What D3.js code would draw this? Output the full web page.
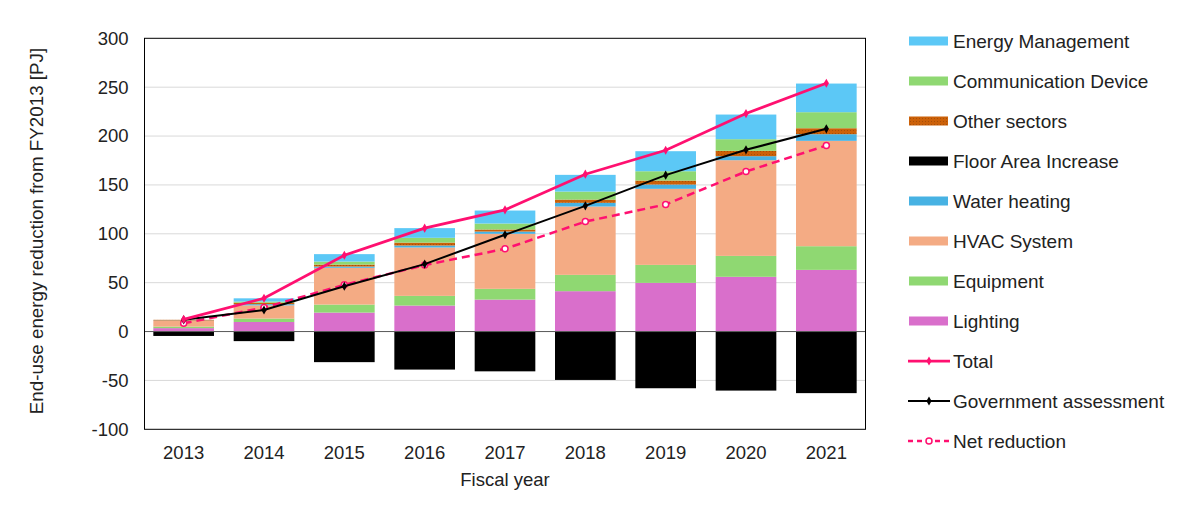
<!DOCTYPE html>
<html>
<head>
<meta charset="utf-8">
<script src="https://cdn.jsdelivr.net/npm/d3@7"></script>
<style>
  body { margin: 0; background: #fff; }
  svg { font-family: "Liberation Sans", Arial, sans-serif; }
</style>
</head>
<body>
<svg id="chart" width="1200" height="510"></svg>
<script>
// ── Data ───────────────────────────────────────────────────────────────────

const years = ['2013', '2014', '2015', '2016', '2017', '2018', '2019', '2020', '2021'];

// positive stack, bottom → top
const lighting   = [3.5, 9.8, 19.4, 26.6, 32.7, 41.3, 49.8, 56.0, 63.1];
const equipment  = [1.5, 3.5, 8.2, 9.9, 11.0, 16.7, 18.4, 21.4, 24.2];
const hvac       = [6.0, 13.5, 37.6, 49.5, 56.3, 69.9, 77.8, 97.9, 107.8];
const water      = [0.3, 1.2, 1.3, 2.0, 2.3, 3.8, 4.4, 4.1, 6.8];
const other      = [0.7, 1.5, 2.0, 3.0, 2.1, 3.3, 4.1, 5.5, 6.1];
const comm       = [0.0, 1.2, 3.1, 4.9, 6.1, 8.2, 9.5, 11.9, 16.4];
const energyMgmt = [0.0, 3.3, 7.6, 9.9, 13.3, 17.1, 20.5, 25.2, 29.3];
// negative
const floorArea  = [-4.5, -9.8, -31.3, -38.9, -40.7, -49.5, -58.0, -60.4, -63.0];

// lines
const total      = [12.5, 34.0, 78.0, 105.8, 124.5, 161.0, 185.5, 223.0, 254.0];
const government = [12.0, 22.0, 46.4, 69.0, 99.0, 128.6, 160.0, 185.9, 207.4];
const net        = [8.5, 24.5, 47.8, 68.0, 84.6, 112.5, 130.0, 163.7, 190.3];

const yTicks = [-100, -50, 0, 50, 100, 150, 200, 250, 300];

const stackSeries = [
  { name: 'Lighting',             values: lighting,   color: '#D96FCB' },
  { name: 'Equipment',            values: equipment,  color: '#8FD872' },
  { name: 'HVAC System',          values: hvac,       color: '#F4AB84' },
  { name: 'Water heating',        values: water,      color: '#47B2E3' },
  { name: 'Other sectors',        values: other,      color: 'url(#dots)' },
  { name: 'Communication Device', values: comm,       color: '#8FD872' },
  { name: 'Energy Management',    values: energyMgmt, color: '#5CC8F6' },
];

// ── Layout ─────────────────────────────────────────────────────────────────

const M = { left: 144.5, right: 865.5, top: 38.3, bottom: 429.3 };
const FONT = '"Liberation Sans", Arial, sans-serif';

const svg = d3.select('#chart');

const defs = svg.append('defs');
const pat = defs.append('pattern')
  .attr('id', 'dots').attr('patternUnits', 'userSpaceOnUse')
  .attr('width', 3).attr('height', 3);
pat.append('rect').attr('width', 3).attr('height', 3).attr('fill', '#CC6109');
pat.append('rect').attr('x', 1).attr('y', 1).attr('width', 1).attr('height', 1).attr('fill', '#A84E08');

const x = d3.scaleBand().domain(years).range([M.left, M.right]).paddingInner(0.245).paddingOuter(0.11);
const y = d3.scaleLinear().domain([-100, 300]).range([M.bottom, M.top]);

// ── Grid ───────────────────────────────────────────────────────────────────

svg.append('g').selectAll('line')
  .data(yTicks.filter(t => t !== 0 && t !== -100 && t !== 300))
  .join('line')
  .attr('x1', M.left).attr('x2', M.right)
  .attr('y1', d => y(d)).attr('y2', d => y(d))
  .attr('stroke', '#d9d9d9').attr('stroke-width', 1);

// ── Bars ───────────────────────────────────────────────────────────────────

const barG = svg.append('g');
years.forEach((yr, i) => {
  let base = 0;
  for (const s of stackSeries) {
    const v = s.values[i];
    if (v > 0) {
      barG.append('rect')
        .attr('x', x(yr)).attr('width', x.bandwidth())
        .attr('y', y(base + v)).attr('height', y(base) - y(base + v))
        .attr('fill', s.color);
    }
    base += v;
  }
  barG.append('rect')
    .attr('x', x(yr)).attr('width', x.bandwidth())
    .attr('y', y(0)).attr('height', y(floorArea[i]) - y(0))
    .attr('fill', '#000');
});

// zero line
svg.append('line')
  .attr('x1', M.left).attr('x2', M.right)
  .attr('y1', y(0)).attr('y2', y(0))
  .attr('stroke', '#595959').attr('stroke-width', 1);

// plot frame
svg.append('rect')
  .attr('x', M.left).attr('y', M.top)
  .attr('width', M.right - M.left).attr('height', M.bottom - M.top)
  .attr('fill', 'none').attr('stroke', '#000').attr('stroke-width', 1);

// ── Lines ──────────────────────────────────────────────────────────────────

const cx = d => x(d) + x.bandwidth() / 2;
const lineGen = d3.line().x((d, i) => cx(years[i])).y(d => y(d));

const diamond = d3.symbol().type(d3.symbolDiamond).size(24);

// net reduction (dashed)
svg.append('path').datum(net)
  .attr('d', lineGen).attr('fill', 'none')
  .attr('stroke', '#FF1070').attr('stroke-width', 2.5).attr('stroke-dasharray', '8,5');
svg.append('g').selectAll('circle').data(net).join('circle')
  .attr('cx', (d, i) => cx(years[i])).attr('cy', d => y(d)).attr('r', 3)
  .attr('fill', '#fff').attr('stroke', '#FF1070').attr('stroke-width', 1.5);

// government assessment
svg.append('path').datum(government)
  .attr('d', lineGen).attr('fill', 'none')
  .attr('stroke', '#000').attr('stroke-width', 2);
svg.append('g').selectAll('path').data(government).join('path')
  .attr('d', diamond)
  .attr('transform', (d, i) => `translate(${cx(years[i])},${y(d)})`)
  .attr('fill', '#000');

// total
svg.append('path').datum(total)
  .attr('d', lineGen).attr('fill', 'none')
  .attr('stroke', '#FF1070').attr('stroke-width', 2.75);
svg.append('g').selectAll('path').data(total).join('path')
  .attr('d', diamond)
  .attr('transform', (d, i) => `translate(${cx(years[i])},${y(d)})`)
  .attr('fill', '#FF1070');

// ── Axes ───────────────────────────────────────────────────────────────────

const yAxis = d3.axisLeft(y).tickValues(yTicks).tickFormat(d => String(d)).tickSize(0).tickPadding(16);
const yG = svg.append('g').attr('transform', `translate(${M.left},0)`).call(yAxis);
yG.select('.domain').remove();
yG.selectAll('text').attr('font-size', 18.5).attr('fill', '#222').attr('font-family', FONT);

const xAxis = d3.axisBottom(x).tickSize(0).tickPadding(17);
const xG = svg.append('g').attr('transform', `translate(0,${M.bottom})`).call(xAxis);
xG.select('.domain').remove();
xG.selectAll('text').attr('font-size', 18.5).attr('fill', '#222').attr('font-family', FONT);

svg.append('text')
  .attr('x', (M.left + M.right) / 2).attr('y', 486)
  .attr('text-anchor', 'middle').attr('font-size', 18.5).attr('fill', '#222')
  .text('Fiscal year');

svg.append('text')
  .attr('transform', `translate(43,231) rotate(-90)`)
  .attr('text-anchor', 'middle').attr('font-size', 18.8).attr('fill', '#222')
  .text('End-use energy reduction from FY2013 [PJ]');

// ── Legend ─────────────────────────────────────────────────────────────────

const legendItems = [
  { name: 'Energy Management',    type: 'bar',  color: '#5CC8F6' },
  { name: 'Communication Device', type: 'bar',  color: '#8FD872' },
  { name: 'Other sectors',        type: 'bar',  color: 'url(#dots)' },
  { name: 'Floor Area Increase',  type: 'bar',  color: '#000' },
  { name: 'Water heating',        type: 'bar',  color: '#47B2E3' },
  { name: 'HVAC System',          type: 'bar',  color: '#F4AB84' },
  { name: 'Equipment',            type: 'bar',  color: '#8FD872' },
  { name: 'Lighting',             type: 'bar',  color: '#D96FCB' },
  { name: 'Total',                type: 'total' },
  { name: 'Government assessment', type: 'gov' },
  { name: 'Net reduction',        type: 'net' },
];

const lg = svg.append('g');
legendItems.forEach((it, i) => {
  const cy = 41 + i * 40;
  const g = lg.append('g');
  if (it.type === 'bar') {
    g.append('rect').attr('x', 909).attr('y', cy - 4.5).attr('width', 39).attr('height', 9)
      .attr('fill', it.color);
  } else if (it.type === 'total') {
    g.append('line').attr('x1', 908).attr('x2', 950).attr('y1', cy).attr('y2', cy)
      .attr('stroke', '#FF1070').attr('stroke-width', 2.75);
    g.append('path').attr('d', diamond).attr('transform', `translate(929,${cy})`).attr('fill', '#FF1070');
  } else if (it.type === 'gov') {
    g.append('line').attr('x1', 908).attr('x2', 950).attr('y1', cy).attr('y2', cy)
      .attr('stroke', '#000').attr('stroke-width', 2);
    g.append('path').attr('d', diamond).attr('transform', `translate(929,${cy})`).attr('fill', '#000');
  } else {
    g.append('line').attr('x1', 908).attr('x2', 950).attr('y1', cy).attr('y2', cy)
      .attr('stroke', '#FF1070').attr('stroke-width', 2.5).attr('stroke-dasharray', '5,4');
    g.append('circle').attr('cx', 929).attr('cy', cy).attr('r', 3)
      .attr('fill', '#fff').attr('stroke', '#FF1070').attr('stroke-width', 1.5);
  }
  g.append('text').attr('x', 953).attr('y', cy).attr('dy', '0.35em')
    .attr('font-size', 19).attr('fill', '#222').attr('font-family', FONT).text(it.name);
});
</script>
</body>
</html>
